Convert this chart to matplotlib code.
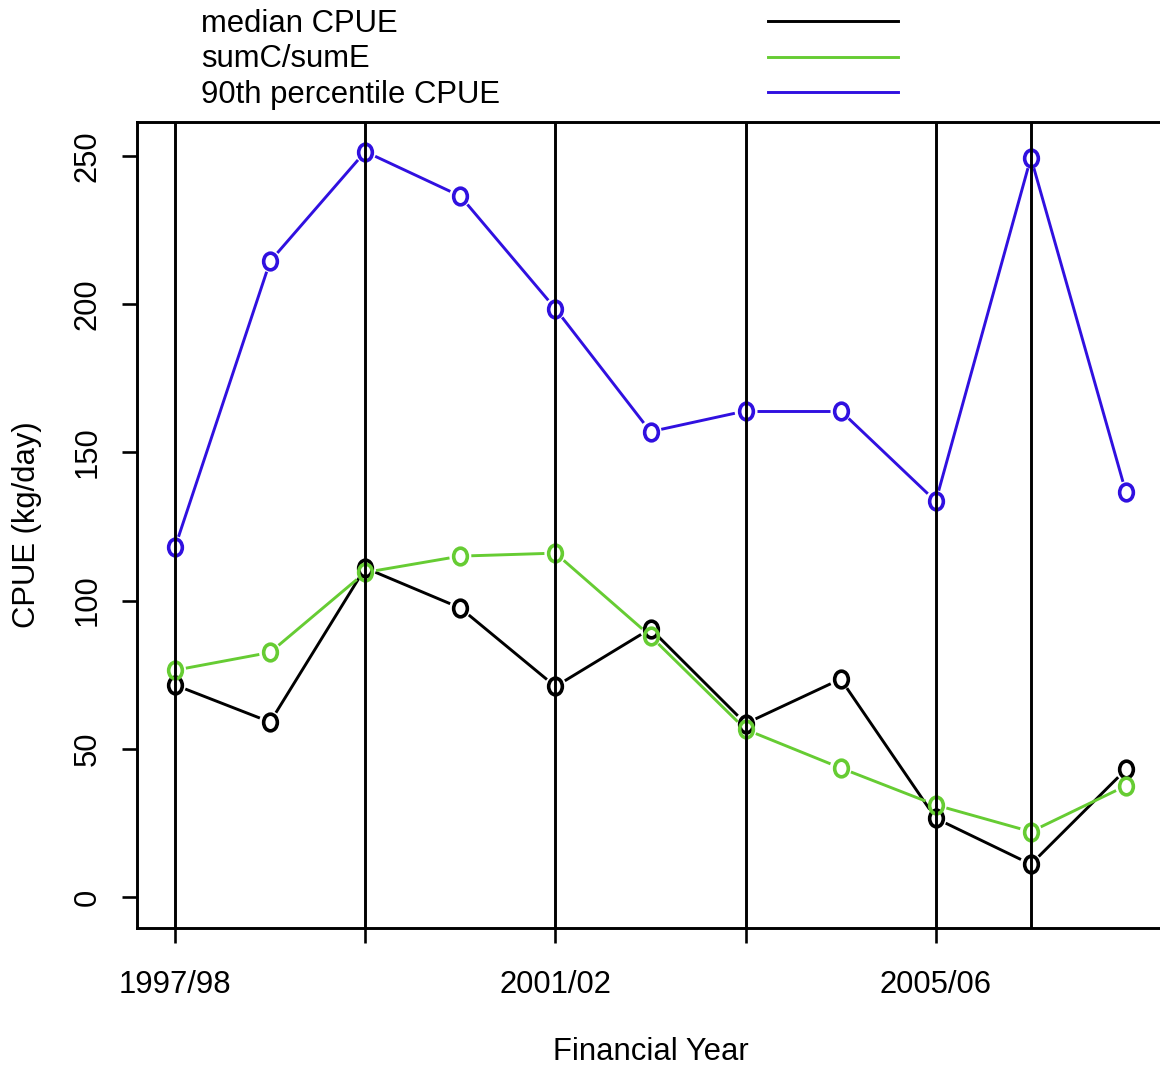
import numpy as np
import matplotlib
matplotlib.use('Agg')
import matplotlib.pyplot as plt
from matplotlib.lines import Line2D
from matplotlib.path import Path
from matplotlib.transforms import Affine2D

## data
years = ['1997/98', '1998/99', '1999/00', '2000/01', '2001/02', '2002/03',
         '2003/04', '2004/05', '2005/06', '2006/07', '2007/08']
median_cpue = [71.5, 59, 111, 97.5, 71, 90.5, 58.5, 73.5, 26.5, 11, 43]
sumC_sumE = [76.5, 82.5, 109.5, 115, 116, 88, 56.5, 43.5, 31, 22, 37.5]
p90_cpue = [118, 214.5, 251.5, 236.5, 198.5, 157, 164, 164, 133.5, 249.5, 136.5]
vline_years = ['1997/98', '1999/00', '2001/02', '2003/04', '2005/06', '2006/07']
tick_years = ['1997/98', '1999/00', '2001/02', '2003/04', '2005/06']
label_years = ['1997/98', '2001/02', '2005/06']
yticks = [0, 50, 100, 150, 200, 250]

series = [('median CPUE', median_cpue, 'black'),
          ('sumC/sumE', sumC_sumE, '#66CC33'),
          ('90th percentile CPUE', p90_cpue, '#3010E0')]

plt.rcParams['font.family'] = ['Liberation Sans', 'DejaVu Sans']
FS = 22.3
LW = 2.1
W, H = 1160, 1068
fig = plt.figure(figsize=(W / 100, H / 100), dpi=100)
ax = fig.add_axes([137 / W, 140 / H, 1027 / W, 806 / H])

x = np.arange(len(years))
ax.set_xlim(-0.4, len(years) - 1 + 0.4)
ax.set_ylim(-10.5, 261.5)

# ellipse shaped "o" marker
omark = Path.unit_circle().transformed(Affine2D().scale(0.82, 1.0))

gap = 11  # pixels of line left open around each point (type="b")
tr = ax.transData
inv = tr.inverted()
for name, vals, col in series:
    pts = tr.transform(np.column_stack([x, vals]))
    for i in range(len(pts) - 1):
        p0, p1 = pts[i], pts[i + 1]
        d = p1 - p0
        L = np.hypot(*d)
        if L <= 2 * gap:
            continue
        u = d / L
        seg = inv.transform(np.vstack([p0 + u * gap, p1 - u * gap]))
        ax.plot(seg[:, 0], seg[:, 1], color=col, lw=LW, solid_capstyle='butt', zorder=2)
    ax.plot(x, vals, linestyle='none', marker=omark, markersize=12,
            markerfacecolor='none', markeredgecolor=col, markeredgewidth=2.6, zorder=3)

for yr in vline_years:
    ax.axvline(years.index(yr), color='black', lw=LW, zorder=4)

ax.set_xticks([years.index(y) for y in tick_years])
ax.set_xticklabels([y if y in label_years else '' for y in tick_years], fontsize=FS)
ax.set_yticks(yticks)
ax.set_yticklabels([str(v) for v in yticks], fontsize=FS, rotation=90, va='center')
ax.tick_params(axis='both', direction='out', length=11, width=LW * 0.9)
ax.tick_params(axis='x', pad=19.5)
ax.tick_params(axis='y', pad=14)
for s in ax.spines.values():
    s.set_linewidth(LW)

fig.text(651 / W, 1 - 1052 / H, 'Financial Year', fontsize=FS, ha='center', va='center')
fig.text(27 / W, 1 - 525 / H, 'CPUE (kg/day)', fontsize=FS, ha='center', va='center', rotation=90)

# legend above the plot
for k, (name, vals, col) in enumerate(series):
    yy = 1 - (21 + 35.5 * k) / H
    fig.text(201 / W, yy - 2.5 / H, name, fontsize=FS, ha='left', va='center')
    fig.add_artist(Line2D([768 / W, 898 / W], [yy, yy], color=col, lw=LW,
                          transform=fig.transFigure))

fig.savefig('out.png', dpi=100)
